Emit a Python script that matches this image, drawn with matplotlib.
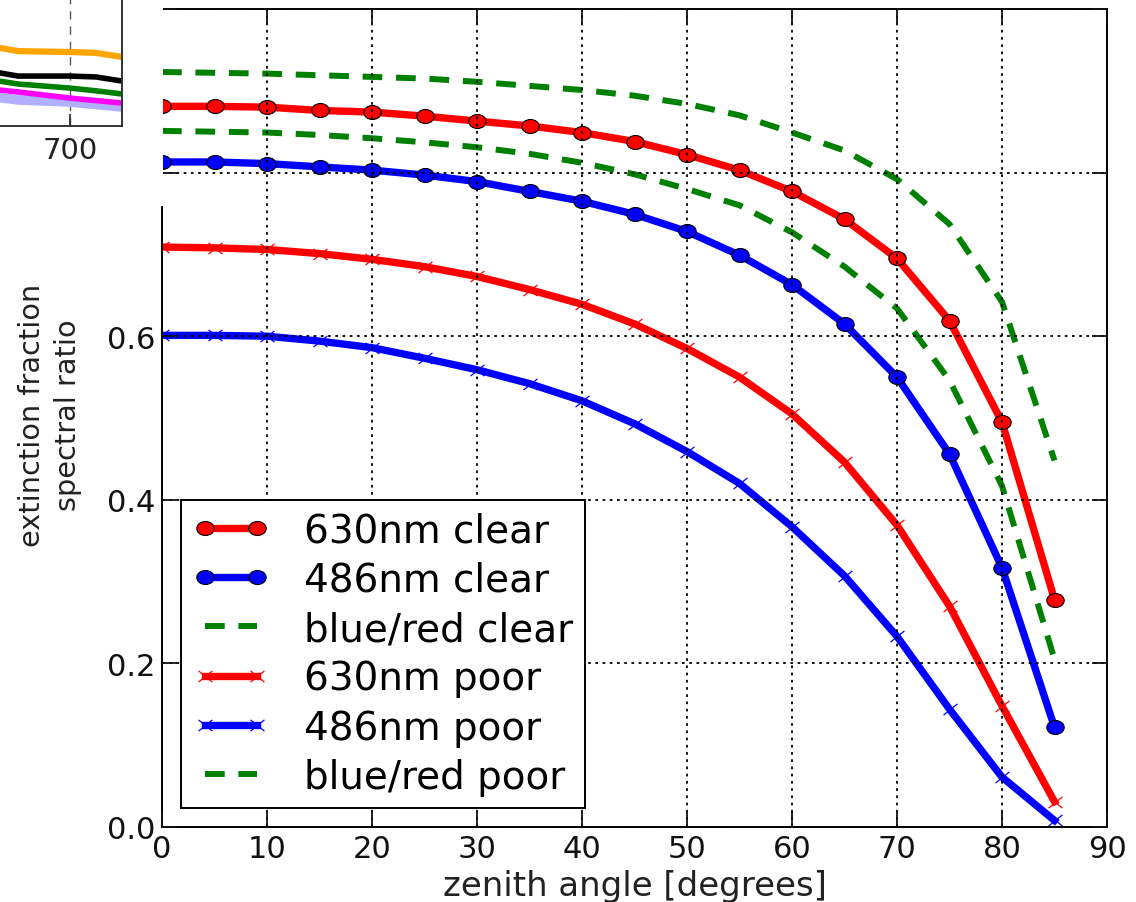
import numpy as np
import matplotlib
matplotlib.use('Agg')
import matplotlib.pyplot as plt
from matplotlib.path import Path
from matplotlib.patches import Rectangle
from matplotlib.ticker import FormatStrFormatter

# zenith angle grid and curves
zenith = [0, 5, 10, 15, 20, 25, 30, 35, 40, 45, 50, 55, 60, 65, 70, 75, 80, 85]
red_clear = [0.881, 0.881, 0.880, 0.876, 0.874, 0.869, 0.863, 0.857, 0.849, 0.838,
             0.822, 0.803, 0.777, 0.743, 0.695, 0.619, 0.495, 0.278]
blue_clear = [0.813, 0.813, 0.811, 0.807, 0.803, 0.797, 0.789, 0.777, 0.765, 0.749,
              0.728, 0.699, 0.663, 0.615, 0.550, 0.456, 0.317, 0.122]
ratio_clear = [0.923, 0.922, 0.921, 0.919, 0.917, 0.915, 0.911, 0.906, 0.901, 0.894,
               0.884, 0.870, 0.849, 0.827, 0.792, 0.737, 0.642, 0.448]
red_poor = [0.709, 0.708, 0.706, 0.701, 0.694, 0.685, 0.673, 0.657, 0.639, 0.615,
            0.585, 0.550, 0.505, 0.446, 0.369, 0.270, 0.148, 0.031]
blue_poor = [0.601, 0.601, 0.600, 0.594, 0.586, 0.573, 0.559, 0.542, 0.521, 0.493,
             0.459, 0.420, 0.367, 0.307, 0.233, 0.144, 0.061, 0.008]
ratio_poor = [0.851, 0.850, 0.849, 0.846, 0.842, 0.837, 0.831, 0.823, 0.812, 0.798,
              0.780, 0.760, 0.727, 0.685, 0.634, 0.546, 0.417, 0.205]
labels = ['630nm clear', '486nm clear', 'blue/red clear',
          '630nm poor', '486nm poor', 'blue/red poor']

# fragment of the neighbouring panel (top-left corner)
wl = [665, 680, 700, 710, 720]
inset_orange = [0.360, 0.330, 0.326, 0.322, 0.304]
inset_black = [0.250, 0.220, 0.220, 0.216, 0.198]
inset_green = [0.212, 0.185, 0.167, 0.155, 0.141]
inset_magenta = [0.168, 0.150, 0.123, 0.112, 0.101]
inset_lav = [0.137, 0.115, 0.106, 0.095, 0.084]

# slightly wide shapes, the reference is stretched sideways
circ = Path.unit_circle()
oval = Path(circ.vertices * [1.24, 1.0], circ.codes)
cross = Path([(-1.24, -1), (1.24, 1), (-1.24, 1), (1.24, -1)],
             [Path.MOVETO, Path.LINETO, Path.MOVETO, Path.LINETO])

fig = plt.figure(figsize=(11.36, 9.03), dpi=100)
ax = fig.add_axes([162 / 1136, 1 - 828 / 903, 945 / 1136, 818 / 903])

dash = (0, (3.3, 2.3))
ax.plot(zenith, red_clear, color='red', lw=5.3, marker=oval, ms=12.5, mfc='red',
        mec='black', mew=0.8, label=labels[0])
ax.plot(zenith, blue_clear, color='blue', lw=5.3, marker=oval, ms=12.5, mfc='blue',
        mec='black', mew=0.8, label=labels[1])
ax.plot(zenith, ratio_clear, color='green', lw=4.3, ls=dash, label=labels[2])
ax.plot(zenith, red_poor, color='red', lw=5.3, marker=cross, ms=10, mfc='none',
        mec='red', mew=0.9, label=labels[3])
ax.plot(zenith, blue_poor, color='blue', lw=5.3, marker=cross, ms=10, mfc='none',
        mec='blue', mew=0.9, label=labels[4])
ax.plot(zenith, ratio_poor, color='green', lw=4.3, ls=dash, label=labels[5])

ax.set_xlim(0, 90)
ax.set_ylim(0, 1.0)
ax.set_xticks(range(0, 91, 10))
ax.set_yticks(np.arange(0, 1.01, 0.2))
ax.yaxis.set_major_formatter(FormatStrFormatter('%.1f'))
ax.set_axisbelow(False)
ax.grid(True, color='black', ls=(0, (1.5, 2.5)), lw=1.3)
ax.tick_params(direction='in', length=11, width=1.3, top=True, right=True,
               labelsize=22, pad=5, colors='#111111')
for sp in ax.spines.values():
    sp.set_linewidth(1.4)

ax.set_xlabel('zenith angle [degrees]', fontsize=24.5, color='#222222')
ax.xaxis.set_label_coords(0.5, -0.051)
ax.set_ylabel('extinction fraction\nspectral ratio', fontsize=20.7,
              color='#222222', linespacing=1.35)
ax.yaxis.set_label_coords(-0.085, 0.505)

leg = ax.legend(loc='lower left', fontsize=28, numpoints=2, handlelength=1.95,
                handletextpad=0.9, borderpad=0.3, labelspacing=0.29,
                borderaxespad=0.5, fancybox=False, framealpha=1)
leg.get_frame().set_edgecolor('black')
leg.get_frame().set_linewidth(1.4)

# white block of the pasted neighbour panel
fig.add_artist(Rectangle((0, 1 - 207 / 903), 162.5 / 1136, 207 / 903,
                         transform=fig.transFigure, fc='white', ec='none', zorder=1))

axi = fig.add_axes([-710 / 1136, 1 - 127 / 903, 832 / 1136, 227 / 903], zorder=3)
axi.plot(wl, inset_orange, color='orange', lw=4.5)
axi.plot(wl, inset_lav, color='#b0b0ff', lw=7)
axi.plot(wl, inset_black, color='black', lw=4)
axi.plot(wl, inset_green, color='green', lw=4)
axi.plot(wl, inset_magenta, color='magenta', lw=4)
axi.set_xlim(400, 720)
axi.set_ylim(0, 1)
axi.set_xticks([700])
axi.set_yticks([])
axi.grid(True, axis='x', color='0.35', ls=(0, (6, 5)), lw=1)
axi.tick_params(direction='in', length=9, width=1.2, labelsize=21, pad=7,
                colors='#222222')
axi.spines['top'].set_visible(False)
axi.spines['left'].set_visible(False)
for sp in ('right', 'bottom'):
    axi.spines[sp].set_linewidth(1.4)
    axi.spines[sp].set_color('#333333')

fig.savefig('out.png', dpi=100)
